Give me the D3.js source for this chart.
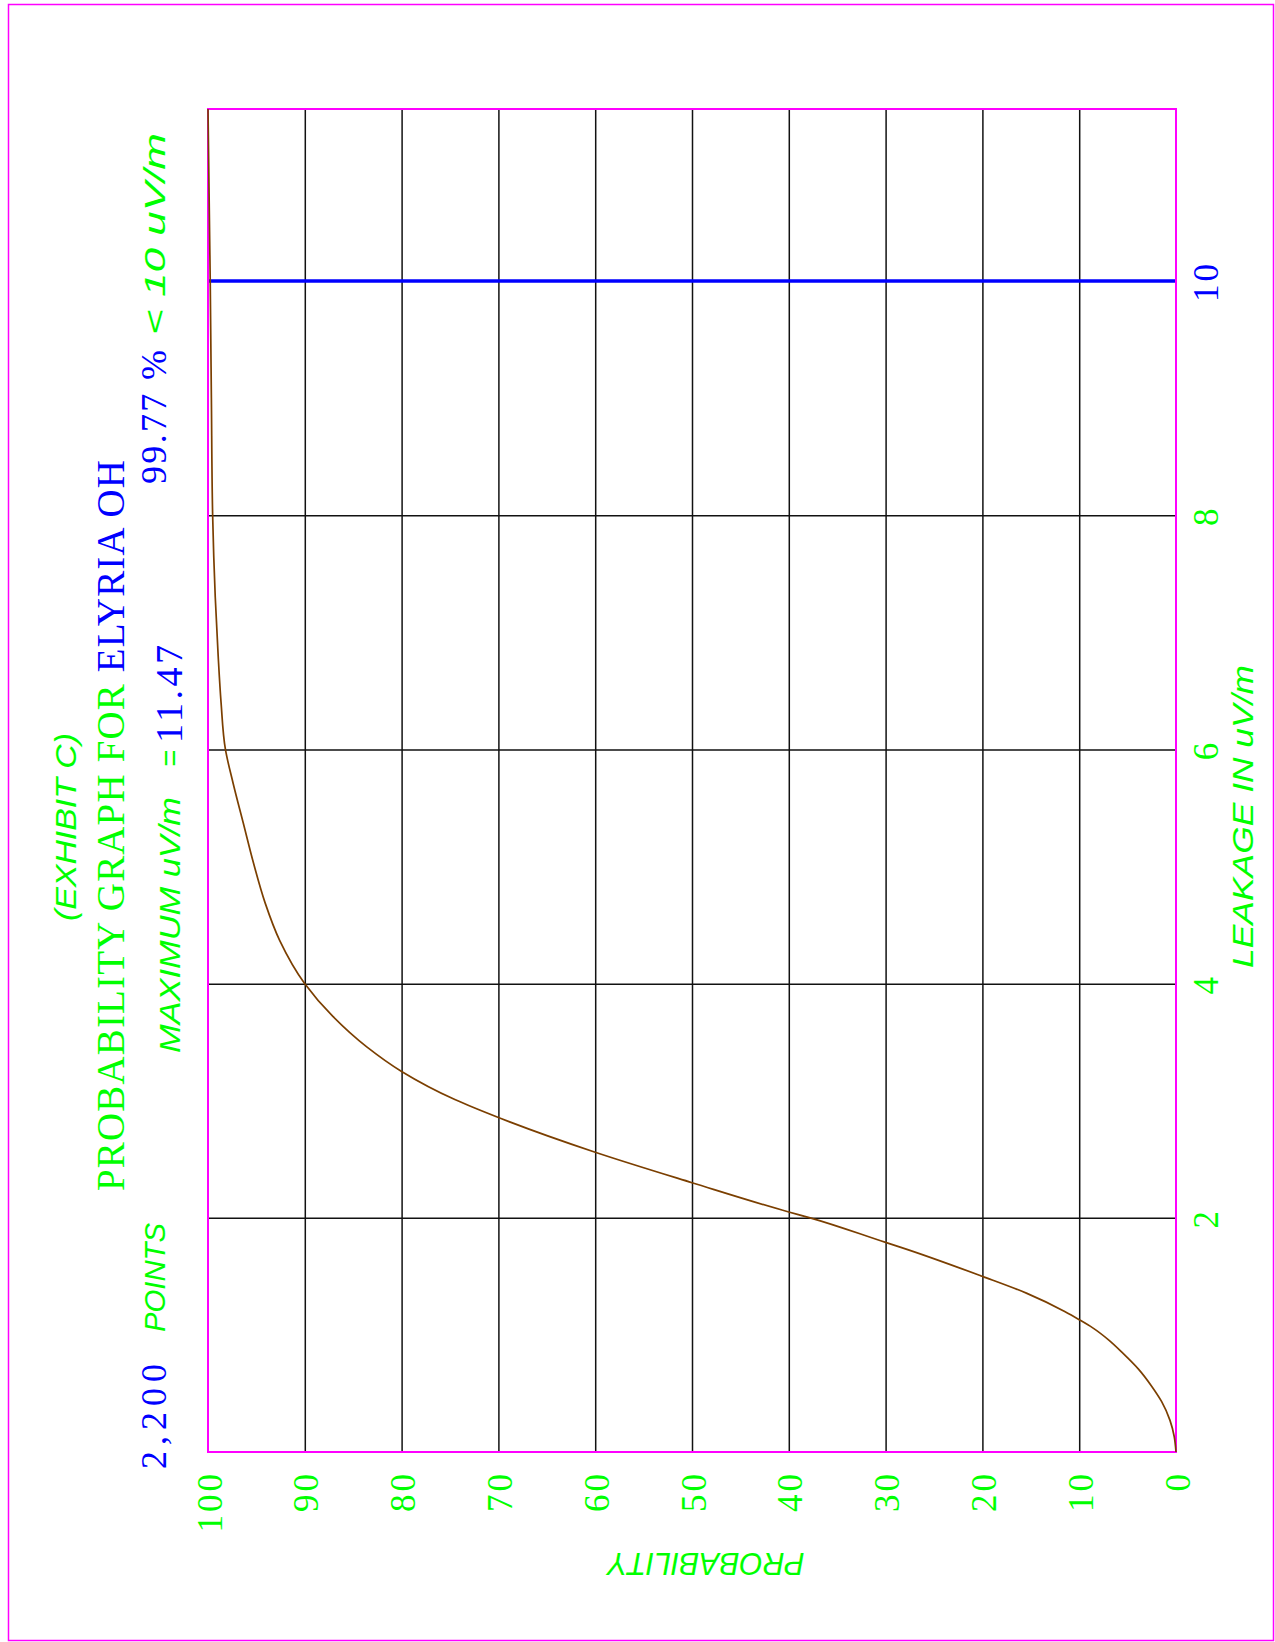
<!DOCTYPE html>
<html>
<head>
<meta charset="utf-8">
<script src="https://cdn.jsdelivr.net/npm/d3@7"></script>
<style>
  body { margin: 0; background: #fff; }
  svg { display: block; }
</style>
</head>
<body>
<svg id="drawing" width="1275" height="1642"></svg>
<script>
// cumulative probability curve
const leakage = [0, 0.13, 0.27, 0.43, 0.56, 0.71, 0.84, 0.96, 1.06, 1.13,
    1.2, 1.355, 1.5, 1.75, 1.79, 2.0, 2.05, 2.3, 2.56, 2.85,
    3.01, 3.25, 3.46, 3.72, 4.0, 4.37, 4.69, 5.03, 5.37, 5.71,
    6.0, 6.4, 6.8, 7.3, 8.0, 9.0, 10.0, 11.47]
const probability = [0, 0.18, 0.62, 1.48, 2.5, 3.9, 5.44, 7.0, 8.6, 10,
    11.5, 15.4, 20, 28.5, 30, 37.8, 40, 50, 60, 69.8,
    74.5, 80, 83.6, 87.1, 90, 92.6, 94.1, 95.3, 96.35, 97.4,
    98.2, 98.65, 98.95, 99.25, 99.52, 99.65, 99.77, 100]

const probTicks = [100, 90, 80, 70, 60, 50, 40, 30, 20, 10, 0]
const leakTicks = [2, 4, 6, 8, 10]
const maxLeak = 11.47
const limitLeak = 10

const GREEN = "#00ff00", BLUE = "#0000ff", MAGENTA = "#ff00ff", BROWN = "#7b3f00"
const SERIF = "'Liberation Serif', 'DejaVu Serif', serif"
const SANS = "'Liberation Sans', Arial, sans-serif"

const plot = { left: 208, right: 1176, top: 109, bottom: 1452 }

const svg = d3.select("#drawing")

x = d3.scaleLinear()
    .domain([100, 0])
    .range([plot.left, plot.right])

y = d3.scaleLinear()
    .domain([0, maxLeak])
    .range([plot.bottom, plot.top])

// outer frame
svg.append("rect")
    .attr("x", 8.5).attr("y", 4.5)
    .attr("width", 1265).attr("height", 1636)
    .attr("fill", "none")
    .attr("stroke", MAGENTA)
    .attr("stroke-width", 1.5)

// vertical grid (probability)
svg.append("g")
    .attr("transform", `translate(0,${plot.bottom})`)
    .call(d3.axisBottom(x).tickValues(probTicks.filter(d => d > 0 && d < 100))
        .tickSize(-(plot.bottom - plot.top)).tickFormat(""))
    .call(g => g.select(".domain").remove())
    .call(g => g.selectAll(".tick line").attr("stroke", "#111").attr("stroke-width", 1.5))

// horizontal grid (leakage)
svg.append("g")
    .attr("transform", `translate(${plot.left},0)`)
    .call(d3.axisLeft(y).tickValues(leakTicks.filter(d => d !== limitLeak))
        .tickSize(-(plot.right - plot.left)).tickFormat(""))
    .call(g => g.select(".domain").remove())
    .call(g => g.selectAll(".tick line").attr("stroke", "#111").attr("stroke-width", 1.5))

// 10 uV/m limit
svg.append("line")
    .attr("x1", plot.left).attr("x2", plot.right)
    .attr("y1", y(limitLeak)).attr("y2", y(limitLeak))
    .attr("stroke", BLUE)
    .attr("stroke-width", 3.5)

// plot frame
svg.append("rect")
    .attr("x", plot.left).attr("y", plot.top)
    .attr("width", plot.right - plot.left).attr("height", plot.bottom - plot.top)
    .attr("fill", "none")
    .attr("stroke", MAGENTA)
    .attr("stroke-width", 2)

// curve
const pts = leakage.map((l, i) => ({ l: l, p: probability[i] }))
line = d3.line()
    .x(d => x(d.p))
    .y(d => y(d.l))
    .curve(d3.curveMonotoneY)

svg.append("path")
    .datum(pts)
    .attr("d", line)
    .attr("fill", "none")
    .attr("stroke", BROWN)
    .attr("stroke-width", 1.7)

// probability tick labels
svg.append("g")
    .attr("transform", `translate(0,${plot.bottom})`)
    .call(d3.axisBottom(x).tickValues(probTicks).tickSize(0).tickFormat(d3.format("d")))
    .call(g => g.select(".domain").remove())
    .call(g => g.selectAll(".tick text")
        .attr("transform", "rotate(-90)")
        .attr("text-anchor", "end")
        .attr("x", -19)
        .attr("y", 13)
        .attr("dy", null)
        .attr("fill", GREEN)
        .attr("font-family", SERIF)
        .attr("font-size", 35)
        .attr("letter-spacing", 3))

// leakage tick labels
svg.append("g")
    .attr("transform", `translate(${plot.right},0)`)
    .call(d3.axisRight(y).tickValues(leakTicks).tickSize(0).tickFormat(d3.format("d")))
    .call(g => g.select(".domain").remove())
    .call(g => g.selectAll(".tick text")
        .attr("transform", "rotate(-90)")
        .attr("text-anchor", "middle")
        .attr("x", 0)
        .attr("y", 42)
        .attr("dy", null)
        .attr("fill", d => d === limitLeak ? BLUE : GREEN)
        .attr("font-family", SERIF)
        .attr("font-size", 35)
        .attr("letter-spacing", 3))

// rotated text run: starts at yStart (bottom) and reads upward for len px
function vtext(str, xBase, yStart, len, color, font, size, italic) {
    return svg.append("text")
        .attr("transform", `translate(${xBase},${yStart}) rotate(-90)`)
        .attr("text-anchor", "start")
        .attr("fill", color)
        .attr("font-family", font)
        .attr("font-size", size)
        .attr("font-style", italic ? "italic" : "normal")
        .attr("textLength", len)
        .attr("lengthAdjust", italic ? "spacingAndGlyphs" : "spacing")
        .text(str)
}

vtext("(EXHIBIT C)", 76, 921, 188, GREEN, SANS, 30, true)

const title = svg.append("text")
    .attr("transform", `translate(124,1191) rotate(-90)`)
    .attr("font-family", SERIF)
    .attr("font-size", 39)
    .attr("textLength", 731)
    .attr("lengthAdjust", "spacing")
title.append("tspan").attr("fill", GREEN).text("PROBABILITY GRAPH FOR ")
title.append("tspan").attr("fill", BLUE).text("ELYRIA OH")

vtext("MAXIMUM uV/m", 180, 1053, 256, GREEN, SANS, 30, true)
vtext("=", 180, 767, 17, GREEN, SANS, 30, true)
vtext("11.47", 182, 743, 98, BLUE, SERIF, 38, false)

vtext("99.77 %", 166, 484, 134, BLUE, SERIF, 36, false)
vtext("< 10 uV/m", 165, 335, 202, GREEN, SANS, 30, true)

vtext("2,200", 166, 1469, 105, BLUE, SERIF, 36, false)
vtext("POINTS", 165, 1332, 109, GREEN, SANS, 30, true)

vtext("LEAKAGE IN uV/m", 1253, 968, 303, GREEN, SANS, 30, true)

// upside-down axis title under the plot
svg.append("text")
    .attr("transform", "translate(706,1553) rotate(180)")
    .attr("text-anchor", "middle")
    .attr("fill", GREEN)
    .attr("font-family", SANS)
    .attr("font-size", 31)
    .attr("font-style", "italic")
    .attr("textLength", 197)
    .attr("lengthAdjust", "spacingAndGlyphs")
    .text("PROBABILITY")
</script>
</body>
</html>
